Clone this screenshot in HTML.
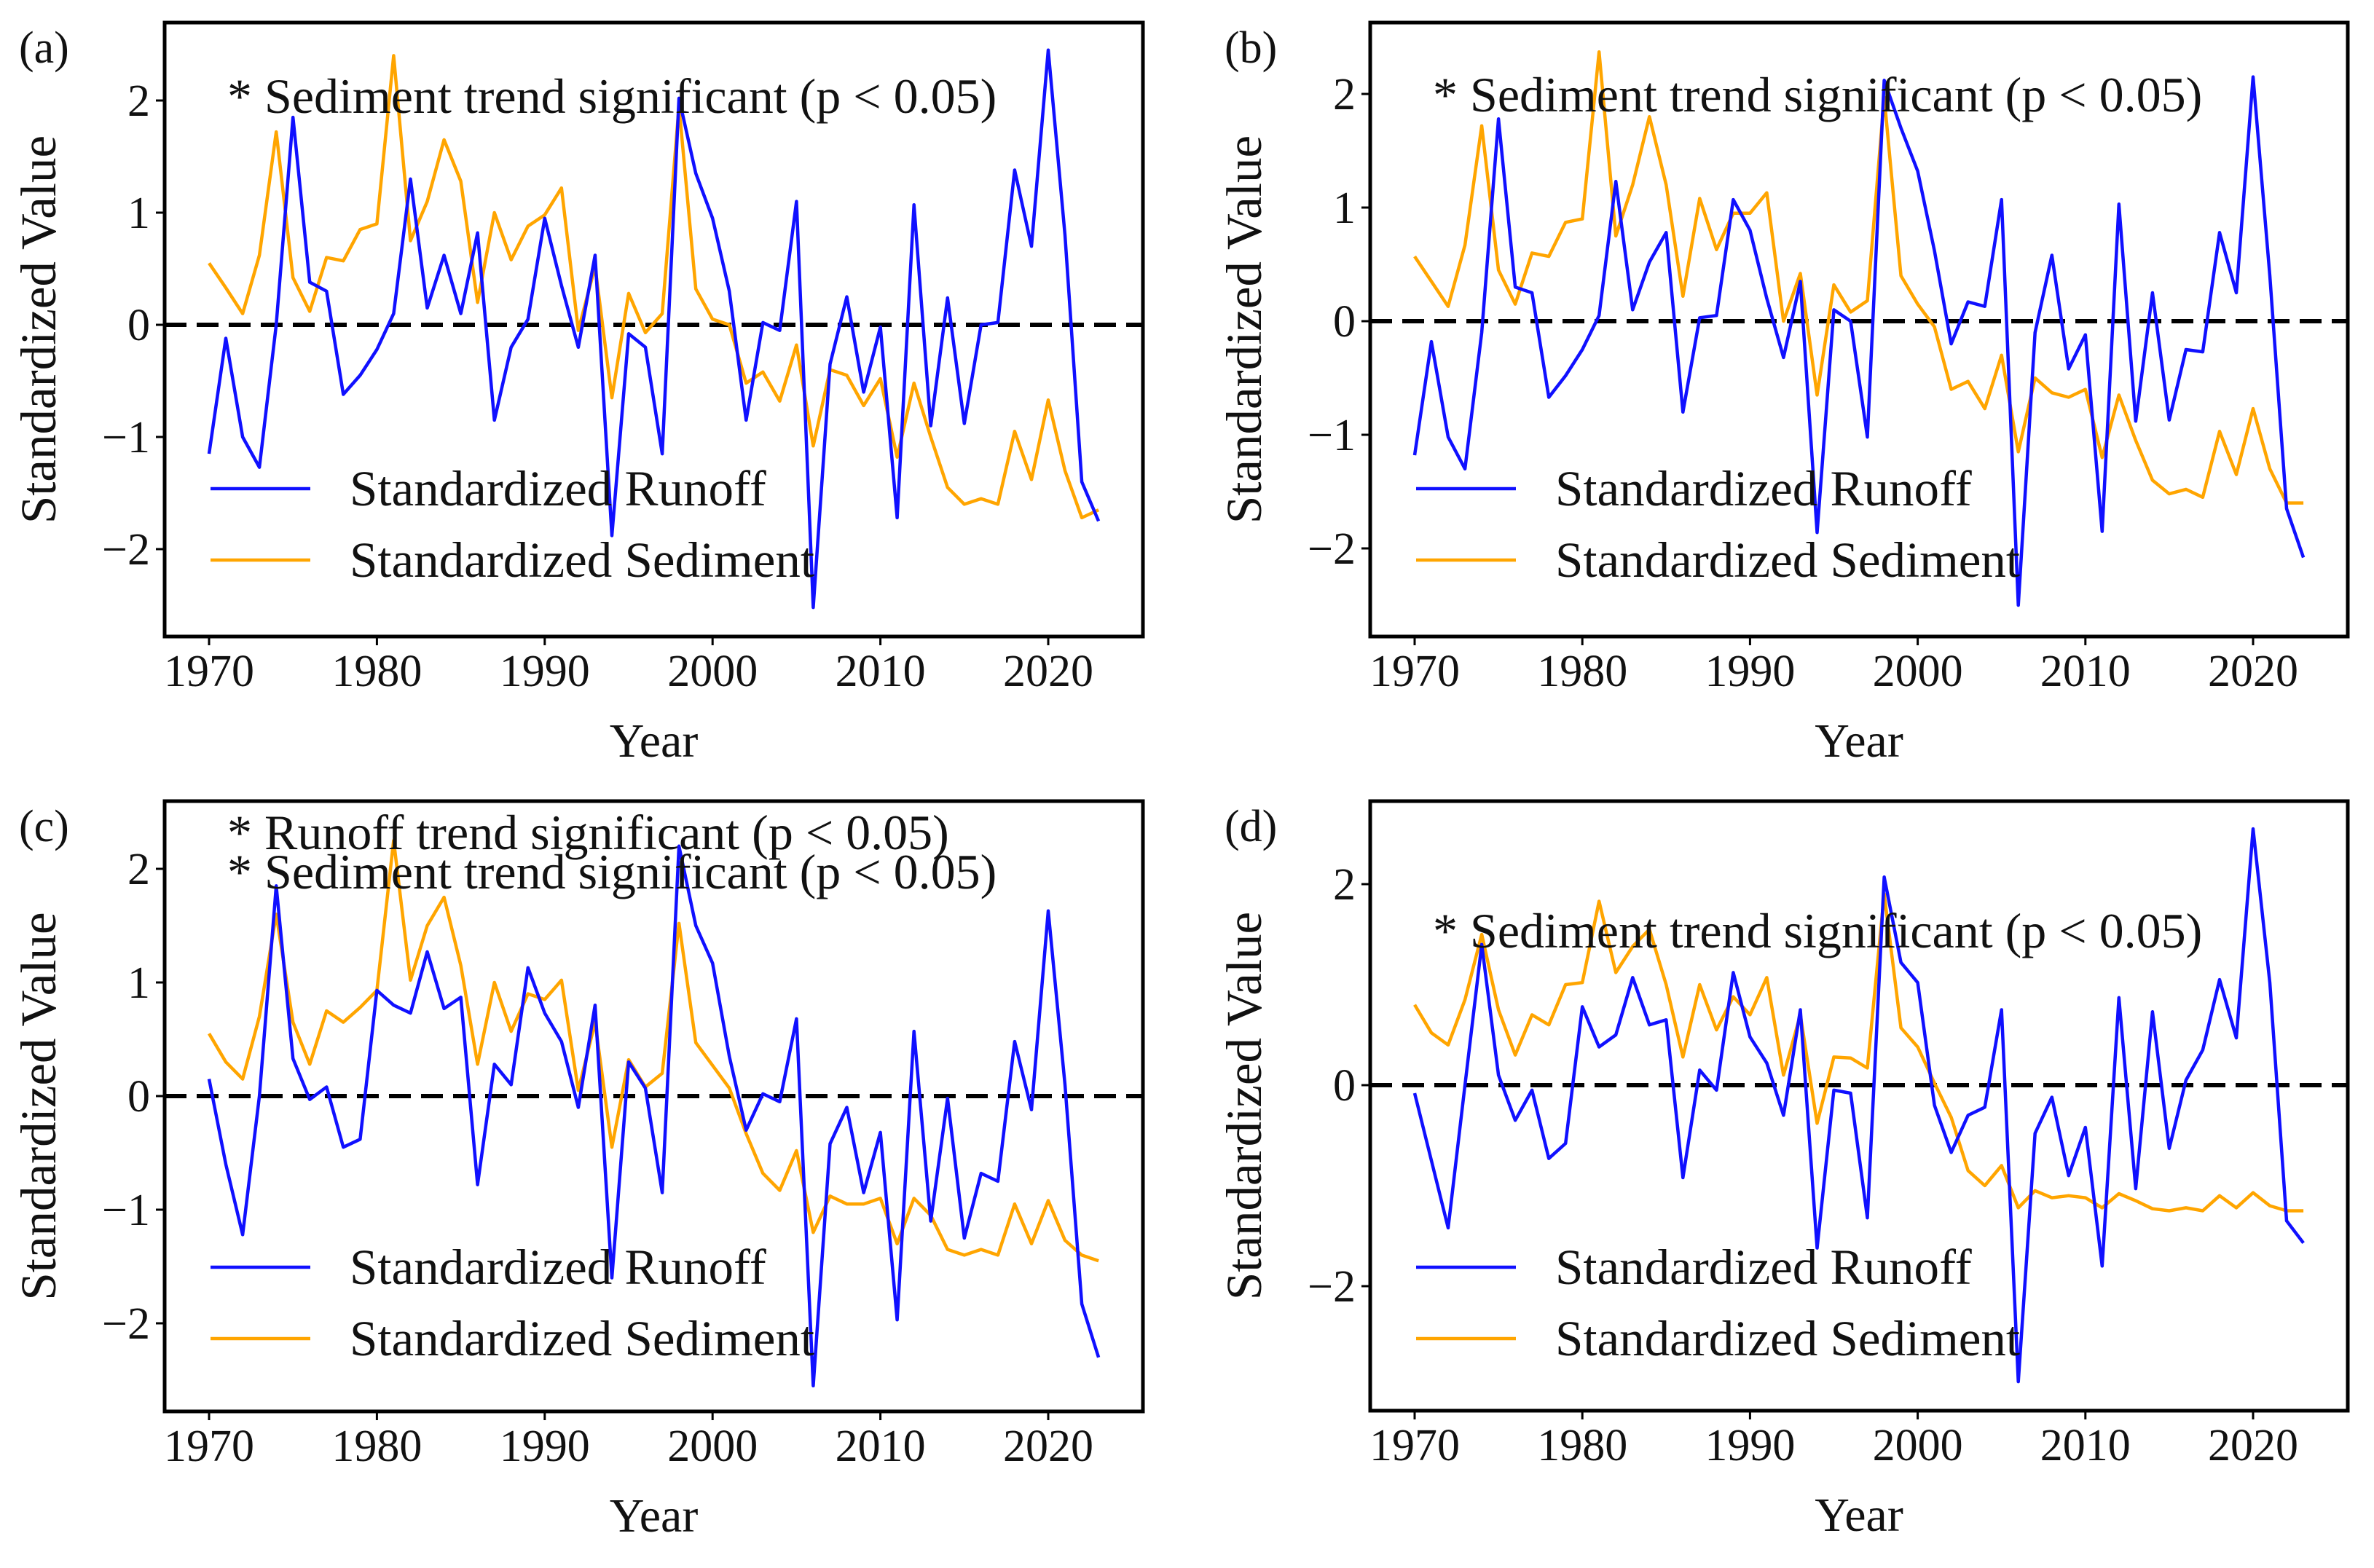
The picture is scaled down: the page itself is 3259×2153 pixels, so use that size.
<!DOCTYPE html>
<html><head><meta charset="utf-8">
<style>
html,body{margin:0;padding:0;background:#fff;}
svg{display:block;}
text{font-family:"Liberation Serif",serif;fill:#111;}
</style></head>
<body>
<svg id="fig" width="3259" height="2153" viewBox="0 0 3259 2153" xmlns="http://www.w3.org/2000/svg"></svg>
<script>
const years = [];
for (let y = 1970; y <= 2023; y++) years.push(y);
const xTicks = [1970, 1980, 1990, 2000, 2010, 2020];

const runoffA = [-1.15,-0.12,-1.0,-1.27,0.0,1.85,0.38,0.3,-0.62,-0.45,-0.22,0.1,1.3,0.15,0.62,0.1,0.82,-0.85,-0.2,0.05,0.95,0.35,-0.2,0.62,-1.88,-0.08,-0.2,-1.15,2.02,1.35,0.95,0.3,-0.85,0.02,-0.05,1.1,-2.52,-0.35,0.25,-0.6,-0.02,-1.72,1.07,-0.9,0.24,-0.88,0.0,0.02,1.38,0.7,2.45,0.8,-1.4,-1.75];
const sedimentA = [0.55,0.33,0.1,0.62,1.72,0.42,0.12,0.6,0.57,0.85,0.9,2.4,0.75,1.1,1.65,1.28,0.2,1.0,0.58,0.88,0.98,1.22,-0.05,0.52,-0.65,0.28,-0.07,0.1,1.95,0.32,0.05,0.0,-0.52,-0.42,-0.68,-0.18,-1.08,-0.4,-0.45,-0.72,-0.48,-1.18,-0.52,-1.0,-1.45,-1.6,-1.55,-1.6,-0.95,-1.38,-0.67,-1.3,-1.72,-1.65];
const runoffB = [-1.18,-0.18,-1.02,-1.3,-0.1,1.78,0.3,0.25,-0.67,-0.48,-0.25,0.05,1.23,0.1,0.52,0.78,-0.8,0.03,0.05,1.07,0.8,0.2,-0.32,0.35,-1.86,0.1,0.0,-1.02,2.12,1.7,1.32,0.62,-0.2,0.17,0.13,1.07,-2.5,-0.1,0.58,-0.42,-0.12,-1.85,1.03,-0.88,0.25,-0.87,-0.25,-0.27,0.78,0.25,2.15,0.4,-1.65,-2.08];
const sedimentB = [0.57,0.35,0.13,0.67,1.72,0.45,0.15,0.6,0.57,0.87,0.9,2.37,0.75,1.2,1.8,1.2,0.22,1.08,0.63,0.95,0.95,1.13,0.0,0.42,-0.65,0.32,0.08,0.18,1.97,0.4,0.15,-0.05,-0.6,-0.53,-0.77,-0.3,-1.15,-0.5,-0.63,-0.67,-0.6,-1.2,-0.65,-1.05,-1.4,-1.52,-1.48,-1.55,-0.97,-1.35,-0.77,-1.3,-1.6,-1.6];
const runoffC = [0.15,-0.6,-1.22,0.0,1.85,0.33,-0.03,0.08,-0.45,-0.38,0.93,0.8,0.73,1.27,0.77,0.87,-0.78,0.28,0.1,1.13,0.73,0.48,-0.1,0.8,-1.6,0.3,0.07,-0.85,2.2,1.5,1.17,0.35,-0.3,0.02,-0.05,0.68,-2.55,-0.42,-0.1,-0.85,-0.32,-1.97,0.57,-1.1,-0.02,-1.25,-0.68,-0.75,0.48,-0.12,1.63,0.1,-1.83,-2.3];
const sedimentC = [0.55,0.3,0.15,0.7,1.6,0.65,0.28,0.75,0.65,0.78,0.93,2.25,1.02,1.5,1.75,1.15,0.28,1.0,0.57,0.9,0.85,1.02,0.05,0.65,-0.45,0.32,0.08,0.2,1.52,0.47,0.27,0.07,-0.33,-0.68,-0.83,-0.48,-1.2,-0.88,-0.95,-0.95,-0.9,-1.3,-0.9,-1.05,-1.35,-1.4,-1.35,-1.4,-0.95,-1.3,-0.92,-1.27,-1.4,-1.45];
const runoffD = [-0.08,-0.75,-1.42,0.0,1.4,0.1,-0.35,-0.05,-0.73,-0.58,0.78,0.38,0.5,1.07,0.6,0.65,-0.92,0.15,-0.05,1.12,0.48,0.22,-0.3,0.75,-1.62,-0.05,-0.08,-1.32,2.07,1.22,1.02,-0.2,-0.67,-0.3,-0.22,0.75,-2.95,-0.48,-0.12,-0.9,-0.42,-1.8,0.87,-1.03,0.73,-0.63,0.05,0.35,1.05,0.47,2.55,1.02,-1.35,-1.57];
const sedimentD = [0.8,0.52,0.4,0.85,1.5,0.75,0.3,0.7,0.6,1.0,1.02,1.83,1.12,1.38,1.55,1.0,0.28,1.0,0.55,0.88,0.7,1.07,0.1,0.7,-0.38,0.28,0.27,0.17,1.9,0.57,0.38,0.02,-0.32,-0.85,-1.0,-0.8,-1.22,-1.05,-1.12,-1.1,-1.12,-1.22,-1.08,-1.15,-1.23,-1.25,-1.22,-1.25,-1.1,-1.22,-1.07,-1.2,-1.25,-1.25];

const yTicksABC = [-2, -1, 0, 1, 2];
const yTicksD = [-2, 0, 2];

const NS = "http://www.w3.org/2000/svg";
const svg = document.getElementById("fig");
function mk(tag, attrs, parent) {
  const e = document.createElementNS(NS, tag);
  for (const k in attrs) e.setAttribute(k, attrs[k]);
  (parent || svg).appendChild(e);
  return e;
}

const panels = [
  {id:"a", L:226, R:1569, T:31, B:874, x70:287, x20:1439, y0:446, unit:154, run:runoffA, sed:sedimentA, yt:yTicksABC, notes:[["* Sediment trend significant (p < 0.05)",155]]},
  {id:"b", L:1881, R:3223, T:31, B:874, x70:1942, x20:3093, y0:441, unit:156, run:runoffB, sed:sedimentB, yt:yTicksABC, notes:[["* Sediment trend significant (p < 0.05)",153]]},
  {id:"c", L:226, R:1569, T:1100, B:1938, x70:287, x20:1439, y0:1505, unit:156, run:runoffC, sed:sedimentC, yt:yTicksABC, notes:[["* Runoff trend significant (p < 0.05)",1166],["* Sediment trend significant (p < 0.05)",1220]]},
  {id:"d", L:1881, R:3223, T:1100, B:1937, x70:1942, x20:3093, y0:1490, unit:138, run:runoffD, sed:sedimentD, yt:yTicksD, notes:[["* Sediment trend significant (p < 0.05)",1301]]}
];

panels.forEach(p => {
  const g = mk("g", {});
  
  
  const xs = yr => p.x70 + (yr - 1970) * (p.x20 - p.x70) / 50;
  const ys = v => p.y0 - v * p.unit;

  const z = mk("line", {x1:p.L, x2:p.R, y1:ys(0), y2:ys(0), stroke:"#000", "stroke-width":6, "stroke-dasharray":"30,14"}, g);
  
  

  const ptsR = years.map((yr,i) => xs(yr).toFixed(1) + "," + ys(p.run[i]).toFixed(1)).join(" ");
  const ptsS = years.map((yr,i) => xs(yr).toFixed(1) + "," + ys(p.sed[i]).toFixed(1)).join(" ");
  const ls = mk("polyline", {points:ptsS, fill:"none", stroke:"#ffa500", "stroke-width":4.5, "stroke-linejoin":"round"}, g);
  
  
  const lr = mk("polyline", {points:ptsR, fill:"none", stroke:"#1010ff", "stroke-width":4.5, "stroke-linejoin":"round"}, g);
  
  

  const fr = mk("rect", {x:p.L, y:p.T, width:p.R-p.L, height:p.B-p.T, fill:"none", stroke:"#000", "stroke-width":5}, g);
  
  

  xTicks.forEach(t => {
    mk("line", {x1:xs(t), x2:xs(t), y1:p.B, y2:p.B+12, stroke:"#000", "stroke-width":3}, g);
    const tx = mk("text", {x:xs(t), y:p.B+68, "font-size":62, "text-anchor":"middle"}, g);
    tx.textContent = t;
    
    
  });
  p.yt.forEach(t => {
    mk("line", {x1:p.L-12, x2:p.L, y1:ys(t), y2:ys(t), stroke:"#000", "stroke-width":3}, g);
    const ty = mk("text", {x:p.L-20, y:ys(t)+21, "font-size":62, "text-anchor":"end"}, g);
    ty.textContent = t < 0 ? "\u2212" + Math.abs(t) : String(t);
    
    
  });
  const xt = mk("text", {x:(p.L+p.R)/2, y:p.B+165, "font-size":66, "text-anchor":"middle"}, g);
  xt.textContent = "Year";
  
  
  const cy = (p.T+p.B)/2;
  const cx = p.L - 150;
  const yt = mk("text", {x:cx, y:cy, "font-size":69, "text-anchor":"middle", transform:"rotate(-90 "+cx+" "+cy+")"}, g);
  yt.textContent = "Standardized Value";
  
  

  const pl = mk("text", {x:p.L-200, y:p.T+55, "font-size":62}, g);
  pl.textContent = "(" + p.id + ")";
  
  

  p.notes.forEach(n => {
    const a = mk("text", {x:p.L+86, y:n[1], "font-size":68}, g);
    a.textContent = n[0];
    
    
  });

  const ly1 = p.T + 640, ly2 = p.T + 738;
  const leg = mk("g", {}, g);
  
  
  mk("line", {x1:p.L+63, x2:p.L+200, y1:ly1, y2:ly1, stroke:"#1010ff", "stroke-width":4.5}, leg);
  mk("line", {x1:p.L+63, x2:p.L+200, y1:ly2, y2:ly2, stroke:"#ffa500", "stroke-width":4.5}, leg);
  const t1 = mk("text", {x:p.L+254, y:ly1+23, "font-size":69}, leg);
  t1.textContent = "Standardized Runoff";
  
  
  const t2 = mk("text", {x:p.L+254, y:ly2+23, "font-size":69}, leg);
  t2.textContent = "Standardized Sediment";
  
  
});
</script>
</body></html>
